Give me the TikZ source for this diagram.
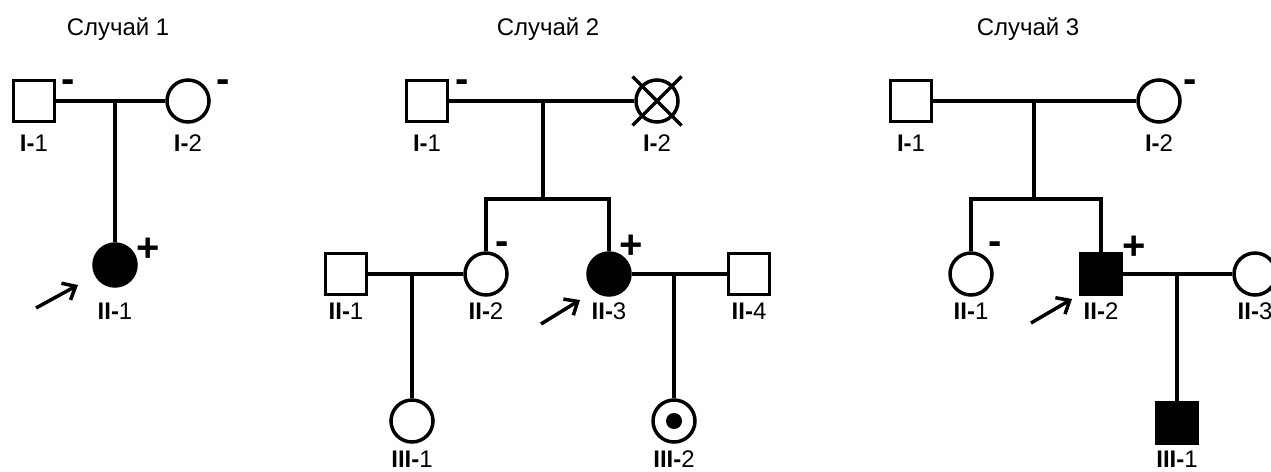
\documentclass[tikz,border=0pt]{standalone}
\usepackage{fontspec}
\setmainfont{Liberation Sans}
\usetikzlibrary{arrows.meta}
\begin{document}
\begin{tikzpicture}[x=1pt,y=-1pt,line width=3.5pt,
  male/.style={draw,rectangle,minimum size=41pt,inner sep=0pt,line width=3.5pt},
  female/.style={draw,circle,minimum size=42pt,inner sep=0pt,line width=3.5pt},
  aff/.style={fill=black},
  lab/.style={anchor=base,inner sep=0pt,font=\fontsize{24}{24}\selectfont},
  ttl/.style={anchor=base west,inner sep=0pt,font=\fontsize{24}{24}\selectfont},
  sgn/.style={anchor=base,inner sep=0pt,font=\fontsize{40}{40}\selectfont\bfseries},
  arr/.style={line width=3.5pt,-{Straight Barb[length=11pt,width=19pt]}}]
\useasboundingbox (0,0) rectangle (1271,471);
\clip (0,0) rectangle (1271,471);

% ---------- Case 1 ----------
\node[ttl] (t1) at (65,35) {Случай 1};
\node[male] (a1) at (34,101) {};
\node[female] (a2) at (188,101) {};
\node[female,aff] (a3) at (115,265) {};
\coordinate (am) at (115,101);
\draw (a1) -- (a2);
\draw (am) -- (a3.north);
\node[lab] (la1) at (a1 |- 0,151) {\textbf{I-}1};
\node[lab] (la2) at (a2 |- 0,151) {\textbf{I-}2};
\node[lab] (la3) at (a3 |- 0,319) {\textbf{II-}1};
\node[sgn] (sa1) at (68.5,92.5) {-};
\node[sgn] (sa2) at (223.5,92.5) {-};
\node[sgn] (sa3) at (148,261) {+};
\coordinate (ar1s) at (36,308);
\coordinate (ar1e) at (78,285);
\draw[arr] (ar1s) -- (ar1e);

% ---------- Case 2 ----------
\node[ttl] (t2) at (495,35) {Случай 2};
\node[male] (b1) at (427,101) {};
\node[female] (b2) at (657,101) {};
\draw ([shift={(-24.5,-24.5)}]b2.center) -- ([shift={(24.5,24.5)}]b2.center);
\draw ([shift={(-24.5,24.5)}]b2.center) -- ([shift={(24.5,-24.5)}]b2.center);
\coordinate (bm) at (543,101);
\coordinate (bs) at (543,199);
\draw (b1) -- (b2);
\draw (bm) -- (bs);
\node[male] (b3) at (346,274) {};
\node[female] (b4) at (486,274) {};
\node[female,aff] (b5) at (609,274) {};
\node[male] (b6) at (749,274) {};
\draw (b4.north) |- (bs) -| (b5.north);
\draw (b3) -- (b4);
\draw (b5) -- (b6);
\node[female] (b7) at (412,421) {};
\node[female] (b8) at (674,421) {};
\fill (b8.center) circle (8pt);
\coordinate (bm2) at (412,274);
\coordinate (bm3) at (674,274);
\draw (bm2) -- (b7.north);
\draw (bm3) -- (b8.north);
\node[lab] (lb1) at (b1 |- 0,151) {\textbf{I-}1};
\node[lab] (lb2) at (b2 |- 0,151) {\textbf{I-}2};
\node[lab] (lb3) at (b3 |- 0,319) {\textbf{II-}1};
\node[lab] (lb4) at (b4 |- 0,319) {\textbf{II-}2};
\node[lab] (lb5) at (b5 |- 0,319) {\textbf{II-}3};
\node[lab] (lb6) at (b6 |- 0,319) {\textbf{II-}4};
\node[lab] (lb7) at (b7 |- 0,467) {\textbf{III-}1};
\node[lab] (lb8) at (b8 |- 0,467) {\textbf{III-}2};
\node[sgn] (sb1) at (462,92.5) {-};
\node[sgn] (sb4) at (502,254) {-};
\node[sgn] (sb5) at (631.5,258.5) {+};
\coordinate (ar2s) at (541,324);
\coordinate (ar2e) at (580,300);
\draw[arr] (ar2s) -- (ar2e);

% ---------- Case 3 ----------
\node[ttl] (t3) at (975,35) {Случай 3};
\node[male] (c1) at (911,101) {};
\node[female] (c2) at (1159,101) {};
\coordinate (cm) at (1034,101);
\coordinate (cs) at (1034,199);
\draw (c1) -- (c2);
\draw (cm) -- (cs);
\node[female] (c3) at (971,274) {};
\node[male,aff] (c4) at (1101,274) {};
\node[female] (c5) at (1255,274) {};
\draw (c3.north) |- (cs) -| (c4.north);
\draw (c4) -- (c5);
\node[male,aff] (c6) at (1177,423) {};
\coordinate (cm2) at (1177,274);
\draw (cm2) -- (c6.north);
\node[lab] (lc1) at (c1 |- 0,151) {\textbf{I-}1};
\node[lab] (lc2) at (c2 |- 0,151) {\textbf{I-}2};
\node[lab] (lc3) at (c3 |- 0,319) {\textbf{II-}1};
\node[lab] (lc4) at (c4 |- 0,319) {\textbf{II-}2};
\node[lab] (lc5) at (c5 |- 0,319) {\textbf{II-}3};
\node[lab] (lc6) at (c6 |- 0,467) {\textbf{III-}1};
\node[sgn] (sc2) at (1190,92.5) {-};
\node[sgn] (sc3) at (995,254.5) {-};
\node[sgn] (sc4) at (1134.5,259) {+};
\coordinate (ar3s) at (1031,323);
\coordinate (ar3e) at (1072,299);
\draw[arr] (ar3s) -- (ar3e);
\end{tikzpicture}
\end{document}
